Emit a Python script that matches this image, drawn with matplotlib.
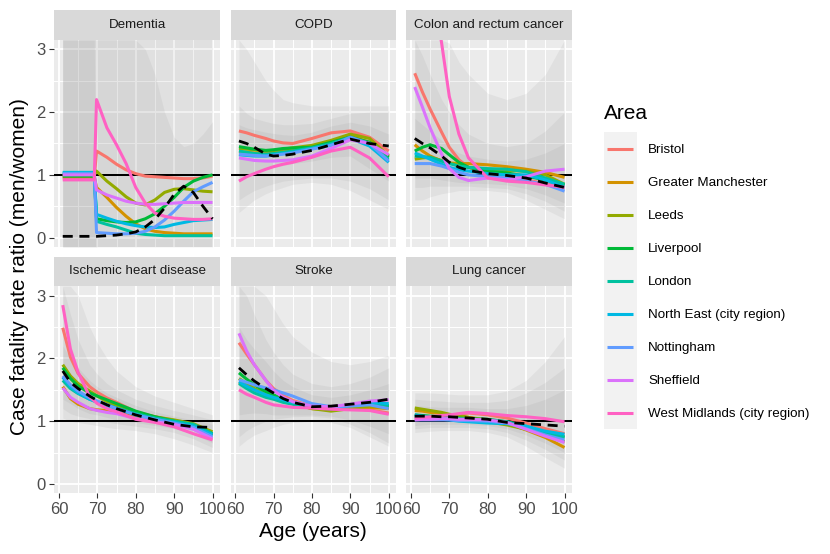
import matplotlib
matplotlib.use("Agg")
import matplotlib.pyplot as plt

plt.rcParams['font.family'] = ['Liberation Sans', 'DejaVu Sans']

AREAS = ["Bristol", "Greater Manchester", "Leeds", "Liverpool", "London",
         "North East (city region)", "Nottingham", "Sheffield",
         "West Midlands (city region)"]
COLORS = ["#F8766D", "#D39200", "#93AA00", "#00BA38", "#00C19F",
          "#00B9E3", "#619CFF", "#DB72FB", "#FF61C3"]

PANELS = ["Dementia", "COPD", "Colon and rectum cancer",
          "Ischemic heart disease", "Stroke", "Lung cancer"]

AGES = [61, 63, 65, 68, 70, 72.5, 75, 80, 85, 90, 95, 100]
DEM_AGES = [61, 69.2, 69.8, 72.5, 75, 77.5, 80, 82.5, 85, 87.5, 90, 92.5, 95, 97.5, 100]

X_TICKS = [60, 70, 80, 90, 100]
Y_TICKS = [0, 1, 2, 3]

# ---------------- Dementia ----------------
dementia = {
    "Bristol":                     [0.95, 0.95, 1.38, 1.28, 1.17, 1.08, 1.02, 0.98, 0.97, 0.96, 0.95, 0.94, 0.94, 0.95, 0.98],
    "Greater Manchester":          [0.97, 0.97, 0.80, 0.64, 0.48, 0.34, 0.22, 0.14, 0.10, 0.08, 0.07, 0.06, 0.06, 0.06, 0.06],
    "Leeds":                       [1.00, 1.00, 1.06, 0.90, 0.78, 0.65, 0.55, 0.52, 0.60, 0.72, 0.77, 0.78, 0.76, 0.74, 0.73],
    "Liverpool":                   [0.98, 0.98, 0.30, 0.27, 0.25, 0.24, 0.25, 0.30, 0.38, 0.50, 0.64, 0.80, 0.90, 0.96, 1.00],
    "London":                      [1.03, 1.03, 0.26, 0.21, 0.17, 0.12, 0.07, 0.05, 0.04, 0.03, 0.03, 0.03, 0.03, 0.03, 0.03],
    "North East (city region)":    [1.04, 1.04, 0.37, 0.31, 0.26, 0.22, 0.19, 0.17, 0.16, 0.17, 0.21, 0.24, 0.27, 0.28, 0.29],
    "Nottingham":                  [1.02, 1.02, 0.08, 0.07, 0.06, 0.06, 0.07, 0.10, 0.17, 0.28, 0.42, 0.58, 0.73, 0.81, 0.88],
    "Sheffield":                   [1.00, 1.00, 0.76, 0.68, 0.63, 0.58, 0.55, 0.53, 0.53, 0.54, 0.55, 0.56, 0.56, 0.56, 0.56],
    "West Midlands (city region)": [0.92, 0.92, 2.20, 1.75, 1.48, 1.18, 0.80, 0.55, 0.39, 0.34, 0.31, 0.30, 0.29, 0.29, 0.30],
}
dementia_all = [0.02, 0.02, 0.02, 0.03, 0.04, 0.06, 0.09, 0.17, 0.29, 0.47, 0.69, 0.82, 0.72, 0.50, 0.30]
dementia_band_wide = ([-0.15] * 15, [3.15] * 15)
dementia_band_mid = ([-0.15] * 15,
                     [3.15, 3.15, 3.15, 3.15, 3.15, 3.15, 3.15, 3.0, 2.6, 2.0, 1.6, 1.45, 1.5, 1.65, 1.85])
dementia_band_narrow = ([-0.15] * 15,
                        [3.15, 3.15, -0.15, -0.15, -0.15, -0.15, -0.15, -0.15, -0.15, -0.15, -0.15, -0.15, -0.15, -0.15, -0.15])

# ---------------- COPD ----------------
copd = {
    "Bristol":                     [1.70, 1.67, 1.63, 1.58, 1.54, 1.51, 1.50, 1.58, 1.67, 1.70, 1.60, 1.38],
    "Greater Manchester":          [1.36, 1.36, 1.35, 1.35, 1.36, 1.38, 1.40, 1.45, 1.52, 1.62, 1.52, 1.30],
    "Leeds":                       [1.42, 1.41, 1.40, 1.38, 1.39, 1.41, 1.43, 1.47, 1.55, 1.65, 1.58, 1.30],
    "Liverpool":                   [1.45, 1.43, 1.41, 1.39, 1.40, 1.42, 1.43, 1.44, 1.52, 1.60, 1.52, 1.28],
    "London":                      [1.38, 1.36, 1.34, 1.33, 1.34, 1.36, 1.38, 1.43, 1.50, 1.60, 1.47, 1.25],
    "North East (city region)":    [1.32, 1.31, 1.30, 1.30, 1.32, 1.34, 1.36, 1.42, 1.48, 1.58, 1.46, 1.20],
    "Nottingham":                  [1.33, 1.32, 1.31, 1.30, 1.31, 1.33, 1.35, 1.41, 1.47, 1.60, 1.50, 1.22],
    "Sheffield":                   [1.27, 1.25, 1.23, 1.22, 1.22, 1.23, 1.24, 1.30, 1.42, 1.56, 1.50, 1.32],
    "West Midlands (city region)": [0.90, 0.97, 1.02, 1.09, 1.13, 1.17, 1.20, 1.28, 1.38, 1.44, 1.27, 0.97],
}
copd_all = [1.54, 1.50, 1.44, 1.33, 1.30, 1.31, 1.33, 1.39, 1.48, 1.57, 1.50, 1.46]
copd_band_wide = ([0.40, 0.50, 0.60, 0.70, 0.75, 0.80, 0.85, 0.88, 0.85, 0.75, 0.60, 0.45],
                  [3.15, 3.00, 2.80, 2.50, 2.35, 2.20, 2.15, 2.10, 2.10, 2.10, 2.10, 2.10])
copd_band_mid = ([0.60, 0.68, 0.75, 0.82, 0.86, 0.90, 0.92, 0.95, 0.95, 0.90, 0.78, 0.60],
                 [2.10, 1.98, 1.90, 1.85, 1.82, 1.80, 1.80, 1.82, 1.90, 1.98, 2.00, 2.00])
copd_band_narrow = ([0.95, 1.00, 1.05, 1.10, 1.12, 1.15, 1.18, 1.22, 1.28, 1.30, 1.10, 0.90],
                    [1.80, 1.75, 1.72, 1.68, 1.66, 1.64, 1.63, 1.68, 1.78, 1.84, 1.78, 1.65])

# ---------------- Colon and rectum cancer ----------------
colon = {
    "Bristol":                     [2.62, 2.32, 2.05, 1.68, 1.44, 1.24, 1.12, 1.02, 0.96, 0.92, 0.86, 0.80],
    "Greater Manchester":          [1.48, 1.38, 1.30, 1.22, 1.19, 1.18, 1.18, 1.16, 1.13, 1.09, 1.04, 0.96],
    "Leeds":                       [1.25, 1.27, 1.28, 1.23, 1.19, 1.15, 1.12, 1.08, 1.07, 1.06, 1.00, 0.85],
    "Liverpool":                   [1.38, 1.44, 1.48, 1.42, 1.32, 1.20, 1.12, 1.06, 1.03, 0.98, 0.92, 0.84],
    "London":                      [1.30, 1.29, 1.28, 1.22, 1.18, 1.14, 1.12, 1.10, 1.09, 1.05, 0.95, 0.85],
    "North East (city region)":    [1.35, 1.30, 1.25, 1.17, 1.12, 1.08, 1.06, 1.02, 1.00, 1.00, 0.92, 0.80],
    "Nottingham":                  [1.18, 1.18, 1.18, 1.14, 1.10, 1.04, 1.00, 0.97, 0.95, 0.90, 0.85, 0.74],
    "Sheffield":                   [2.40, 2.08, 1.75, 1.33, 1.10, 0.96, 0.91, 0.95, 0.92, 0.97, 1.06, 1.09],
    "West Midlands (city region)": [6.50, 5.20, 4.20, 3.10, 2.25, 1.65, 1.27, 0.95, 0.90, 0.88, 0.84, 0.80],
}
colon_all = [1.58, 1.50, 1.43, 1.30, 1.20, 1.12, 1.07, 1.02, 0.99, 0.95, 0.87, 0.80]
colon_band_wide = ([0.60, 0.60, 0.65, 0.70, 0.72, 0.75, 0.75, 0.75, 0.72, 0.60, 0.45, 0.30],
                   [3.15, 3.15, 3.15, 3.15, 3.10, 2.80, 2.60, 2.30, 2.20, 2.30, 2.60, 3.15])
colon_band_mid = ([0.80, 0.80, 0.82, 0.82, 0.82, 0.82, 0.82, 0.80, 0.78, 0.70, 0.58, 0.42],
                  [3.15, 2.90, 2.60, 2.20, 2.00, 1.80, 1.65, 1.50, 1.45, 1.50, 1.70, 2.00])
colon_band_narrow = ([0.95, 0.95, 0.95, 0.92, 0.90, 0.88, 0.87, 0.86, 0.84, 0.78, 0.68, 0.55],
                     [1.90, 1.80, 1.70, 1.55, 1.45, 1.35, 1.30, 1.25, 1.22, 1.25, 1.35, 1.50])

# ---------------- Ischemic heart disease ----------------
ihd = {
    "Bristol":                     [2.49, 2.02, 1.76, 1.55, 1.46, 1.37, 1.30, 1.15, 1.07, 1.01, 0.93, 0.78],
    "Greater Manchester":          [1.55, 1.36, 1.27, 1.20, 1.18, 1.17, 1.16, 1.08, 1.03, 0.99, 0.92, 0.77],
    "Leeds":                       [1.90, 1.72, 1.60, 1.48, 1.40, 1.31, 1.24, 1.13, 1.07, 1.02, 0.96, 0.83],
    "Liverpool":                   [1.85, 1.68, 1.56, 1.45, 1.40, 1.34, 1.28, 1.16, 1.07, 1.00, 0.93, 0.80],
    "London":                      [1.65, 1.52, 1.44, 1.35, 1.31, 1.26, 1.21, 1.12, 1.05, 1.00, 0.95, 0.80],
    "North East (city region)":    [1.70, 1.55, 1.45, 1.35, 1.30, 1.25, 1.20, 1.10, 1.03, 0.98, 0.92, 0.78],
    "Nottingham":                  [1.72, 1.58, 1.48, 1.37, 1.32, 1.26, 1.20, 1.10, 1.03, 0.97, 0.90, 0.75],
    "Sheffield":                   [1.53, 1.38, 1.30, 1.20, 1.17, 1.14, 1.12, 1.04, 0.99, 0.95, 0.87, 0.72],
    "West Midlands (city region)": [2.85, 2.15, 1.78, 1.39, 1.28, 1.20, 1.15, 1.03, 0.98, 0.91, 0.80, 0.70],
}
ihd_all = [1.80, 1.62, 1.52, 1.40, 1.33, 1.26, 1.20, 1.10, 1.02, 0.95, 0.91, 0.90]
ihd_band_wide = ([1.05, 1.00, 0.98, 0.95, 0.93, 0.90, 0.88, 0.85, 0.80, 0.72, 0.62, 0.50],
                 [3.15, 3.15, 3.00, 2.50, 2.25, 2.00, 1.80, 1.55, 1.40, 1.30, 1.20, 1.10])
ihd_band_mid = ([1.20, 1.12, 1.08, 1.04, 1.02, 0.99, 0.96, 0.92, 0.88, 0.82, 0.72, 0.58],
                [3.15, 2.70, 2.30, 1.90, 1.75, 1.60, 1.50, 1.35, 1.25, 1.17, 1.10, 1.02])
ihd_band_narrow = ([1.35, 1.28, 1.20, 1.12, 1.10, 1.06, 1.02, 0.98, 0.93, 0.88, 0.80, 0.65],
                   [2.20, 2.00, 1.85, 1.65, 1.55, 1.45, 1.38, 1.25, 1.15, 1.08, 1.02, 0.95])

# ---------------- Stroke ----------------
stroke = {
    "Bristol":                     [2.25, 2.07, 1.90, 1.65, 1.52, 1.41, 1.33, 1.24, 1.21, 1.20, 1.18, 1.13],
    "Greater Manchester":          [1.62, 1.56, 1.50, 1.42, 1.38, 1.32, 1.28, 1.20, 1.18, 1.20, 1.22, 1.20],
    "Leeds":                       [1.68, 1.60, 1.52, 1.44, 1.40, 1.33, 1.28, 1.20, 1.16, 1.20, 1.24, 1.22],
    "Liverpool":                   [1.77, 1.67, 1.58, 1.47, 1.42, 1.35, 1.30, 1.22, 1.19, 1.25, 1.29, 1.25],
    "London":                      [1.60, 1.52, 1.45, 1.38, 1.35, 1.30, 1.27, 1.22, 1.21, 1.26, 1.30, 1.25],
    "North East (city region)":    [1.63, 1.56, 1.50, 1.42, 1.38, 1.34, 1.30, 1.24, 1.22, 1.25, 1.30, 1.28],
    "Nottingham":                  [1.66, 1.62, 1.58, 1.53, 1.50, 1.45, 1.40, 1.28, 1.23, 1.24, 1.26, 1.20],
    "Sheffield":                   [2.40, 2.12, 1.90, 1.65, 1.49, 1.38, 1.31, 1.24, 1.23, 1.27, 1.32, 1.34],
    "West Midlands (city region)": [1.50, 1.43, 1.38, 1.30, 1.26, 1.24, 1.22, 1.21, 1.19, 1.18, 1.17, 1.11],
}
stroke_all = [1.85, 1.74, 1.64, 1.52, 1.45, 1.36, 1.30, 1.23, 1.24, 1.27, 1.30, 1.35]
stroke_band_wide = ([0.60, 0.70, 0.78, 0.85, 0.90, 0.95, 0.98, 1.00, 0.98, 0.90, 0.75, 0.60],
                    [3.15, 3.15, 3.15, 3.00, 2.80, 2.55, 2.35, 2.10, 1.95, 1.90, 1.95, 2.05])
stroke_band_mid = ([0.75, 0.85, 0.92, 1.00, 1.03, 1.05, 1.07, 1.08, 1.05, 0.95, 0.82, 0.65],
                   [3.15, 3.00, 2.70, 2.30, 2.10, 1.90, 1.75, 1.60, 1.55, 1.60, 1.70, 1.85])
stroke_band_narrow = ([1.10, 1.12, 1.13, 1.12, 1.10, 1.10, 1.10, 1.10, 1.08, 1.02, 0.92, 0.80],
                      [2.50, 2.30, 2.15, 1.95, 1.80, 1.65, 1.55, 1.42, 1.38, 1.42, 1.50, 1.60])

# ---------------- Lung cancer ----------------
lung = {
    "Bristol":                     [1.04, 1.05, 1.06, 1.08, 1.09, 1.11, 1.13, 1.10, 1.05, 0.97, 0.88, 0.80],
    "Greater Manchester":          [1.17, 1.16, 1.14, 1.12, 1.10, 1.08, 1.06, 1.02, 0.97, 0.86, 0.74, 0.58],
    "Leeds":                       [1.21, 1.19, 1.17, 1.14, 1.11, 1.09, 1.06, 0.99, 0.94, 0.87, 0.77, 0.67],
    "Liverpool":                   [1.10, 1.09, 1.08, 1.07, 1.06, 1.05, 1.04, 1.03, 0.99, 0.90, 0.81, 0.75],
    "London":                      [1.08, 1.07, 1.06, 1.05, 1.05, 1.04, 1.03, 1.02, 0.99, 0.92, 0.82, 0.74],
    "North East (city region)":    [1.10, 1.08, 1.06, 1.03, 1.02, 1.00, 0.99, 0.97, 0.96, 0.92, 0.84, 0.79],
    "Nottingham":                  [1.02, 1.02, 1.02, 1.02, 1.02, 1.01, 1.01, 1.00, 0.97, 0.88, 0.78, 0.70],
    "Sheffield":                   [1.02, 1.03, 1.03, 1.04, 1.04, 1.03, 1.03, 1.02, 0.98, 0.87, 0.76, 0.66],
    "West Midlands (city region)": [1.05, 1.06, 1.07, 1.09, 1.10, 1.12, 1.14, 1.12, 1.09, 1.07, 1.04, 0.99],
}
lung_all = [1.08, 1.08, 1.08, 1.07, 1.07, 1.06, 1.05, 1.03, 0.98, 0.96, 0.94, 0.92]
lung_band_wide = ([0.82, 0.83, 0.84, 0.85, 0.85, 0.85, 0.85, 0.82, 0.75, 0.60, 0.42, 0.25],
                  [1.45, 1.45, 1.45, 1.44, 1.43, 1.42, 1.42, 1.42, 1.48, 1.65, 1.95, 2.35])
lung_band_mid = ([0.88, 0.89, 0.90, 0.90, 0.90, 0.90, 0.90, 0.88, 0.82, 0.70, 0.55, 0.38],
                 [1.35, 1.34, 1.33, 1.32, 1.31, 1.30, 1.30, 1.30, 1.33, 1.45, 1.62, 1.85])
lung_band_narrow = ([0.93, 0.94, 0.95, 0.95, 0.95, 0.95, 0.95, 0.93, 0.88, 0.78, 0.65, 0.50],
                    [1.25, 1.24, 1.23, 1.22, 1.22, 1.22, 1.22, 1.20, 1.20, 1.25, 1.35, 1.50])

PANEL_DATA = [
    (DEM_AGES, dementia, dementia_all, [dementia_band_wide, dementia_band_mid, dementia_band_narrow]),
    (AGES, copd, copd_all, [copd_band_wide, copd_band_mid, copd_band_narrow]),
    (AGES, colon, colon_all, [colon_band_wide, colon_band_mid, colon_band_narrow]),
    (AGES, ihd, ihd_all, [ihd_band_wide, ihd_band_mid, ihd_band_narrow]),
    (AGES, stroke, stroke_all, [stroke_band_wide, stroke_band_mid, stroke_band_narrow]),
    (AGES, lung, lung_all, [lung_band_wide, lung_band_mid, lung_band_narrow]),
]

# ---------------- Layout (pixels) ----------------
W, H = 830, 554
fig = plt.figure(figsize=(W / 100, H / 100), dpi=100)
fig.patch.set_facecolor("white")

def fa(x, y, w, h):
    return [x / W, 1 - (y + h) / H, w / W, h / H]

col_x = [54.3, 230.5, 406.3]
row_y = [40.0, 286.3]
pw, ph = 165.7, 207.0
strip_h = 29.8

for i, (name, (ages, series, overall, bands)) in enumerate(zip(PANELS, PANEL_DATA)):
    r, c = divmod(i, 3)
    x0, y0 = col_x[c], row_y[r]
    ax = fig.add_axes(fa(x0, y0, pw, ph))
    ax.set_facecolor("#EBEBEB")
    ax.set_xlim(58.8, 101.95)
    ax.set_ylim(-0.15, 3.15)
    ax.set_xticks(X_TICKS)
    ax.set_yticks(Y_TICKS)
    ax.set_xticks([65, 75, 85, 95], minor=True)
    ax.set_yticks([0.5, 1.5, 2.5], minor=True)
    ax.grid(which="major", color="white", linewidth=1.35)
    ax.grid(which="minor", color="white", linewidth=0.7)
    ax.set_axisbelow(True)
    for s in ax.spines.values():
        s.set_visible(False)
    ax.tick_params(which="minor", length=0)
    ax.tick_params(which="major", length=3.6, width=0.8, color="#333333",
                   labelcolor="#4D4D4D", labelsize=12, pad=2.6)
    if c != 0:
        ax.tick_params(axis="y", which="major", length=0, labelleft=False)
    if r == 0:
        ax.tick_params(axis="x", which="major", length=0, labelbottom=False)

    for lo, hi in bands:
        ax.fill_between(ages, lo, hi, color="#8A8A8A", alpha=0.11, linewidth=0, zorder=1)
    ax.axhline(1, color="black", linewidth=1.45, zorder=2)
    for area, col in zip(AREAS, COLORS):
        ax.plot(ages, series[area], color=col, linewidth=2.2, zorder=3,
                solid_capstyle="butt", solid_joinstyle="round")
    ax.plot(ages, overall, color="black", linewidth=2.0, zorder=4,
            linestyle=(0, (3.6, 2.4)), dash_capstyle="butt")

    sax = fig.add_axes(fa(x0, y0 - strip_h, pw, strip_h))
    sax.set_facecolor("#D9D9D9")
    sax.set_xticks([]); sax.set_yticks([])
    for s in sax.spines.values():
        s.set_visible(False)
    sax.text(0.5, 0.5, name, ha="center", va="center", fontsize=9.6,
             color="#1A1A1A", transform=sax.transAxes)

# axis titles
fig.text(312.7 / W, 1 - 537 / H, "Age (years)", ha="center", va="baseline", fontsize=15)
fig.text(20 / W, 1 - 266.5 / H, "Case fatality rate ratio (men/women)", ha="center",
         va="center", rotation=90, fontsize=15)

# legend
lx, ly, key_w, key_h = 604, 132, 33, 33
lax = fig.add_axes(fa(lx, ly, key_w, key_h * len(AREAS)))
lax.set_facecolor("#F2F2F2")
lax.set_xlim(0, key_w)
lax.set_ylim(key_h * len(AREAS), 0)
lax.set_xticks([]); lax.set_yticks([])
for s in lax.spines.values():
    s.set_visible(False)
for k, (area, col) in enumerate(zip(AREAS, COLORS)):
    yc = key_h * k + key_h / 2
    lax.plot([3, 29], [yc, yc], color=col, linewidth=2.2, solid_capstyle="butt")
    fig.text(648 / W, 1 - (ly + yc + 4.9) / H, area, ha="left", va="baseline", fontsize=9.6)
fig.text(604 / W, 1 - 119 / H, "Area", ha="left", va="baseline", fontsize=15)

fig.savefig("out.png", dpi=100)
